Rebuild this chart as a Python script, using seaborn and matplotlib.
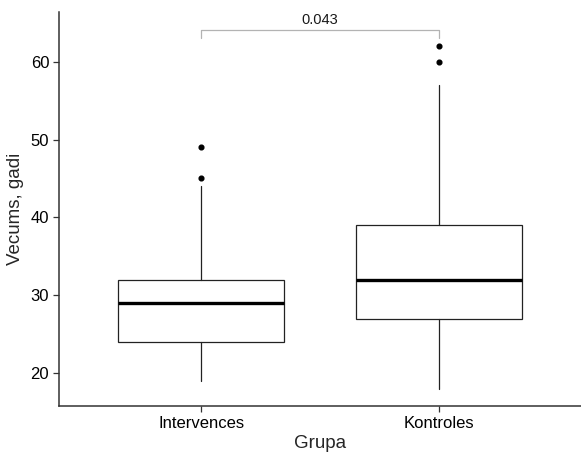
import matplotlib
matplotlib.use('Agg')
import matplotlib.pyplot as plt
import seaborn as sns

sns.set_theme(style='ticks')
plt.rcParams['font.family'] = ['Liberation Sans', 'DejaVu Sans']

# summary statistics
groups = ['Intervences', 'Kontroles']
whisker_low = [19, 18]
q1 = [24, 27]
median = [29, 32]
q3 = [32, 39]
whisker_high = [44, 57]
outliers = [[45, 49], [60, 62]]
p_value = '0.043'

stats = []
for i, g in enumerate(groups):
    stats.append({'label': g, 'whislo': whisker_low[i], 'q1': q1[i], 'med': median[i],
                  'q3': q3[i], 'whishi': whisker_high[i], 'fliers': outliers[i]})

fig = plt.figure(figsize=(5.81, 4.53), dpi=100)
ax = fig.add_axes([0.1015, 0.1038, 0.8985, 0.8697])

ax.bxp(stats, positions=range(len(groups)), widths=0.7, showcaps=False, patch_artist=True,
       boxprops=dict(facecolor='white', edgecolor='#222222', linewidth=0.9),
       whiskerprops=dict(color='#222222', linewidth=0.9),
       medianprops=dict(color='black', linewidth=2.4),
       flierprops=dict(marker='o', markerfacecolor='black', markeredgecolor='black',
                       markersize=3.4, linestyle='none'))

ax.set_xlim(-0.6, 1.6)
ax.set_ylim(15.76, 66.4)
ax.set_yticks([20, 30, 40, 50, 60])
ax.set_xticks(range(len(groups)))
ax.set_xticklabels(groups)

# significance bracket
top = max(max(o) for o in outliers)
bracket_y = top + 2.1
ax.plot([0, 0, 1, 1], [bracket_y - 1.1, bracket_y, bracket_y, bracket_y - 1.1],
        color='#b3b3b3', linewidth=0.9, clip_on=False)
ax.text(0.5, bracket_y + 0.4, p_value, ha='center', va='bottom', fontsize=10.5, color='#1a1a1a')

sns.despine(ax=ax)
for side in ['left', 'bottom']:
    ax.spines[side].set_color('#333333')
    ax.spines[side].set_linewidth(1.1)
ax.tick_params(axis='both', labelsize=12, colors='#333333', labelcolor='black',
               length=4, width=0.9, pad=3)
ax.set_xlabel('Grupa', fontsize=13.5, labelpad=3)
ax.set_ylabel('Vecums, gadi', fontsize=13.5, labelpad=5)

fig.savefig('out.png', dpi=100)
